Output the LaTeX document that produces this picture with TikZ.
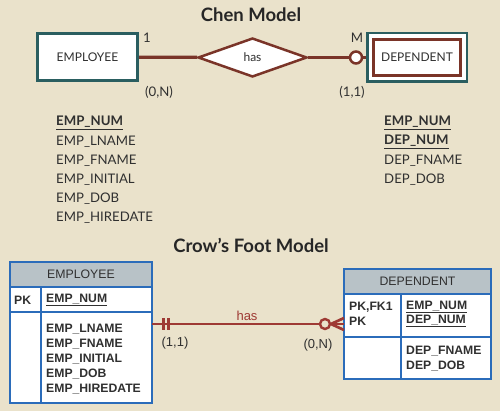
\documentclass[tikz,border=0pt]{standalone}
\usepackage{fontspec}
\setmainfont{Liberation Sans}
\newfontfamily\chenfont{Lato}
\usetikzlibrary{shapes.geometric}
\definecolor{bg}{RGB}{234,226,203}
\definecolor{tealc}{RGB}{42,94,96}
\definecolor{chenbrown}{RGB}{122,52,40}
\definecolor{crowbrown}{RGB}{158,58,52}
\definecolor{tblue}{RGB}{43,108,186}
\definecolor{hgrey}{RGB}{184,194,199}
\definecolor{txt}{RGB}{48,48,48}
\begin{document}
\begin{tikzpicture}[x=1pt,y=-1pt,
  title/.style={font=\chenfont\bfseries\fontsize{18.5}{22}\selectfont, text=black!85, inner sep=0pt},
  chentxt/.style={font=\chenfont\fontsize{13.2}{15}\selectfont, text=txt, inner sep=0pt},
  boxtxt/.style={font=\chenfont\fontsize{12}{14}\selectfont, text=txt, inner sep=0pt},
  attr/.style={chentxt, anchor=west},
  entity/.style={draw=tealc, line width=3pt, fill=white, minimum width=100pt, minimum height=47pt, inner sep=0pt, boxtxt},
  rel/.style={diamond, draw=chenbrown, line width=2.5pt, fill=white, minimum width=109pt, minimum height=39pt, inner sep=0pt, boxtxt},
  chenline/.style={draw=chenbrown, line width=3.2pt},
  crowline/.style={draw=crowbrown, line width=2.7pt},
  crowbar/.style={draw=crowbrown, line width=3pt},
  cell/.style={draw=tblue, line width=2pt, fill=white, inner sep=0pt, outer sep=0pt, anchor=north west},
  hdr/.style={cell, fill=hgrey, font=\fontsize{12.3}{14}\selectfont, text=txt},
  crowb/.style={font=\bfseries\fontsize{12.2}{14}\selectfont, text=txt, inner sep=0pt, anchor=west},
  crowt/.style={font=\fontsize{13}{15}\selectfont, text=txt, inner sep=0pt}
]
\fill[bg] (0,0) rectangle (500,411);
\useasboundingbox (0,0) rectangle (500,411);

% ---------- Chen model ----------
\node[title] (t1) at (251,15) {Chen Model};
\node[entity] (e1) at (87.5,57) {EMPLOYEE};
\node[rel] (r1) at (252.5,57.5) {has};
\node[draw=tealc, line width=2.5pt, fill=white, minimum width=99.5pt, minimum height=48.5pt, inner sep=0pt] (d1o) at (417,57.5) {};
\node[draw=chenbrown, line width=3pt, minimum width=87pt, minimum height=36pt, boxtxt] (d1) at (417,57.5) {DEPENDENT};
\node[circle, draw=chenbrown, line width=2.5pt, fill=white, minimum size=12pt, inner sep=0pt] (c1) at (356,57.5) {};
\draw[chenline] (e1) -- (r1);
\draw[chenline] (r1) -- (c1);
\draw[chenline] (c1) -- (d1o);

\node[chentxt] (l1) at (147,38) {1};
\node[chentxt] (lM) at (357,38) {M};
\node[chentxt] (l0n) at (159,92) {(0,N)};
\node[chentxt] (l11) at (352,92) {(1,1)};

\node[attr] (a1) at (56,123) {\bfseries\underline{EMP\_NUM}};
\node[attr] (a2) at (56,142) {EMP\_LNAME};
\node[attr] (a3) at (56,161) {EMP\_FNAME};
\node[attr] (a4) at (56,180) {EMP\_INITIAL};
\node[attr] (a5) at (56,199) {EMP\_DOB};
\node[attr] (a6) at (56,218) {EMP\_HIREDATE};

\node[attr] (b1) at (384,123) {\bfseries\underline{EMP\_NUM}};
\node[attr] (b2) at (384,142) {\bfseries\underline{DEP\_NUM}};
\node[attr] (b3) at (384,161) {DEP\_FNAME};
\node[attr] (b4) at (384,180) {DEP\_DOB};

% ---------- Crow's foot model ----------
\node[title] (t2) at (251,245) {Crow’s Foot Model};

% EMPLOYEE table
\node[hdr, minimum width=142pt, minimum height=25pt] (eh) at (10,262) {EMPLOYEE};
\node[cell, minimum width=31pt, minimum height=25pt] (epk) at (10,287) {};
\node[cell, minimum width=111pt, minimum height=25pt] (enum) at (41,287) {};
\node[cell, minimum width=31pt, minimum height=91pt] (ek2) at (10,312) {};
\node[cell, minimum width=111pt, minimum height=91pt] (eatt) at (41,312) {};
\node[crowb] (epkt) at (14,300) {PK};
\node[crowb] (enumt) at (46,300) {\underline{EMP\_NUM}};
\node[crowb] (ea1) at (46,329) {EMP\_LNAME};
\node[crowb] (ea2) at (46,344) {EMP\_FNAME};
\node[crowb] (ea3) at (46,359) {EMP\_INITIAL};
\node[crowb] (ea4) at (46,374) {EMP\_DOB};
\node[crowb] (ea5) at (46,389) {EMP\_HIREDATE};

% DEPENDENT table
\node[hdr, minimum width=147pt, minimum height=25pt] (dh) at (344,269) {DEPENDENT};
\node[cell, minimum width=57pt, minimum height=43pt] (dk1) at (344,294) {};
\node[cell, minimum width=90pt, minimum height=43pt] (dn1) at (401,294) {};
\node[cell, minimum width=57pt, minimum height=42pt] (dk2) at (344,337) {};
\node[cell, minimum width=90pt, minimum height=42pt] (dn2) at (401,337) {};
\node[crowb] (dk1a) at (349,307) {PK,FK1};
\node[crowb] (dk1b) at (349,321) {PK};
\node[crowb] (dn1a) at (406,307) {\underline{EMP\_NUM}};
\node[crowb] (dn1b) at (406,321) {\underline{DEP\_NUM}};
\node[crowb] (dn2a) at (406,351) {DEP\_FNAME};
\node[crowb] (dn2b) at (406,366) {DEP\_DOB};

% relationship
\coordinate (ly) at (0,324);
\coordinate (cf) at (331,324);
\draw[crowline] (eatt.east |- ly) -- (dk1.west |- ly);
\draw[crowbar] ([xshift=11pt]eatt.east |- ly) ++(0,-6) -- ++(0,12);
\draw[crowbar] ([xshift=16pt]eatt.east |- ly) ++(0,-6) -- ++(0,12);
\draw[crowline] (cf) -- ([yshift=6pt]dk1.west |- ly);
\draw[crowline] (cf) -- ([yshift=-6pt]dk1.west |- ly);
\node[circle, draw=crowbrown, line width=2.4pt, fill=bg, minimum size=10pt, inner sep=0pt] (c2) at (325,324) {};
\node[crowt, text=crowbrown] (has2) at (247,316) {has};
\node[crowt] (c11) at (175,343) {(1,1)};
\node[crowt] (c0n) at (318,345) {(0,N)};
\end{tikzpicture}
\end{document}
